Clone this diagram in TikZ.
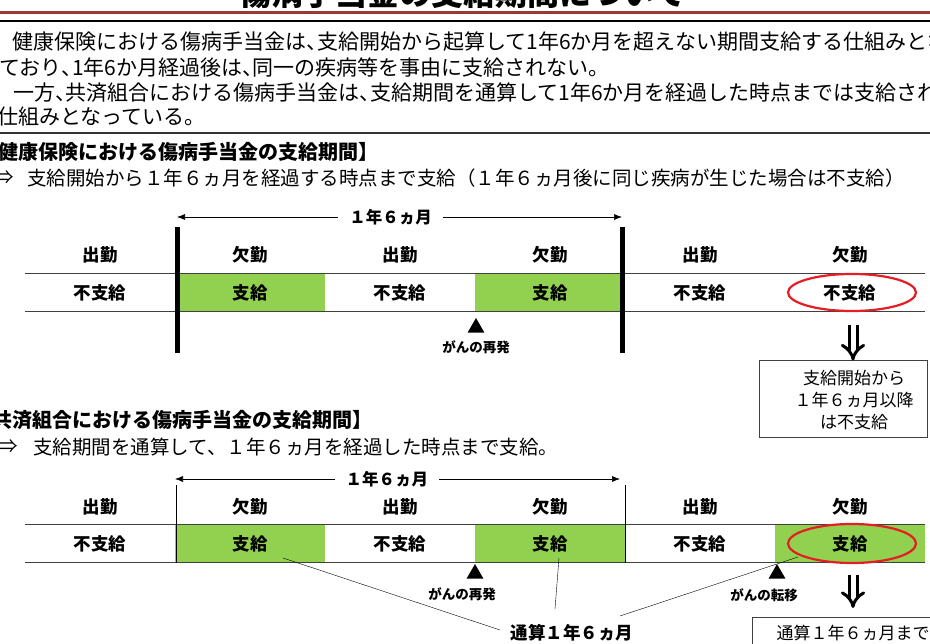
\documentclass[tikz,border=0pt]{standalone}
\usepackage{fontspec}
\setmainfont{Noto Sans CJK JP}
\usepackage{tikz}
\usetikzlibrary{positioning}
\usetikzlibrary{shapes,arrows,arrows.meta}
\definecolor{paygreen}{RGB}{146,208,80}
\definecolor{ringred}{RGB}{228,30,36}
\definecolor{barred}{RGB}{158,56,52}
\newcommand{\tcm}{\makebox[0.5em][l]{、}}
\tikzset{
hdr/.style = {font=\bfseries\fontsize{17.5}{20}\selectfont},
cell/.style = {rectangle, minimum width=150pt, minimum height=38pt, inner sep=0pt, font=\bfseries\fontsize{17.5}{20}\selectfont},
paid/.style = {cell, fill=paygreen},
para/.style = {anchor=west, inner sep=0pt, font=\fontsize{21}{24}\selectfont},
headline/.style = {anchor=west, inner sep=0pt, font=\bfseries\fontsize{20}{24}\selectfont},
leadline/.style = {anchor=west, inner sep=0pt, font=\fontsize{19.5}{24}\selectfont},
spanlabel/.style = {fill=white, inner xsep=11pt, inner ysep=0pt, font=\bfseries\fontsize{16.5}{20}\selectfont},
trimark/.style = {regular polygon, regular polygon sides=3, fill=black, minimum size=19.6pt, inner sep=0pt},
note/.style = {font=\bfseries\fontsize{13.5}{16}\selectfont},
infobox/.style = {draw=black!75, line width=1pt, fill=white},
boxtext/.style = {align=center, font=\fontsize{17}{22}\selectfont},
rowline/.style = {draw=black!75, line width=1.4pt},
fence/.style = {line width=5pt},
redring/.style = {draw=ringred, line width=2.2pt},
downarrow/.style = {double, double distance=5pt, line width=3pt, -{Implies[scale=1.2]}},
tmp/.style = {coordinate}
}

\begin{document}
\begin{tikzpicture}[x=1pt, y=-1pt, node distance=150pt, >={Latex[length=8pt,width=6pt]}]
    \useasboundingbox (0,0) rectangle (930,644);
    \clip (0,0) rectangle (930,644);

    % Title and the rules under it
    \node [anchor=base, font=\bfseries\fontsize{32}{36}\selectfont] (title) at (463,5.5) {傷病手当金の支給期間について};
    \draw [barred, line width=3pt] (0,13) -- (930,13);
    \draw [line width=1.2pt] (0,21) -- (930,21);

    % Opening text
    \node [para] (p1) at (12.5,41.7) {健康保険における傷病手当金は\tcm 支給開始から起算して1年6か月を超えない期間支給する仕組みとな};
    \node [para] (p2) at (-1,67.7) {ており\tcm 1年6か月経過後は\tcm 同一の疾病等を事由に支給されない。};
    \node [para] (p3) at (13,92.7) {一方\tcm 共済組合における傷病手当金は\tcm 支給期間を通算して1年6か月を経過した時点までは支給され};
    \node [para] (p4) at (-3,116.7) {仕組みとなっている。};
    \draw [line width=1.2pt, black!80] (0,133) -- (930,133);

    % First table: kenko hoken
    \node [headline] (s1) at (-22,152) {【健康保険における傷病手当金の支給期間】};
    \node [leadline] (s1a) at (-6,178) {⇒};
    \node [leadline] (s1b) at (27,178) {支給開始から１年６ヵ月を経過する時点まで支給（１年６ヵ月後に同じ疾病が生じた場合は不支給）};

    \node [hdr] (h1) at (100,255) {出勤};
    \node [hdr, right of=h1] (h2) {欠勤};
    \node [hdr, right of=h2] (h3) {出勤};
    \node [hdr, right of=h3] (h4) {欠勤};
    \node [hdr, right of=h4] (h5) {出勤};
    \node [hdr, right of=h5] (h6) {欠勤};

    \node [cell] (a1) at (100,292.5) {不支給};
    \node [paid, right of=a1] (a2) {支給};
    \node [cell, right of=a2] (a3) {不支給};
    \node [paid, right of=a3] (a4) {支給};
    \node [cell, right of=a4] (a5) {不支給};
    \node [cell, right of=a5] (a6) {不支給};
    \draw [rowline] (a1.north west) -- (a6.north east);
    \draw [rowline] (a1.south west) -- (a6.south east);

    \draw [fence] (177,227) -- (177,353);
    \draw [fence] (622,227) -- (622,353);
    \coordinate (l1) at (177,217);
    \coordinate (r1) at (622,217);
    \draw [<->, semithick] (l1) -- node [spanlabel, pos=0.48] {１年６ヵ月} (r1);

    \node [trimark] (t1) at (476,327.8) {};
    \node [note] (n1) at (476,347) {がんの再発};
    \draw [redring] ([xshift=2pt]a6.center) ellipse [x radius=64pt, y radius=18.5pt];

    \coordinate (d1) at (853,325);
    \node [infobox, minimum width=168pt, minimum height=77pt] (box1) at (843,399.5) {};
    \node [boxtext] (bt1) at (854,400) {支給開始から\\１年６ヵ月以降\\は不支給};
    \draw [downarrow] (d1) -- (box1.north -| d1);

    % Second table: kyosai kumiai
    \node [headline] (s2) at (-28,420) {【共済組合における傷病手当金の支給期間】};
    \node [leadline] (s2a) at (-2,447) {⇒};
    \node [leadline] (s2b) at (33,447) {支給期間を通算して、１年６ヵ月を経過した時点まで支給。};

    \node [hdr] (g1) at (100,507) {出勤};
    \node [hdr, right of=g1] (g2) {欠勤};
    \node [hdr, right of=g2] (g3) {出勤};
    \node [hdr, right of=g3] (g4) {欠勤};
    \node [hdr, right of=g4] (g5) {出勤};
    \node [hdr, right of=g5] (g6) {欠勤};

    \node [cell] (c1) at (100,543.5) {不支給};
    \node [paid, right of=c1] (c2) {支給};
    \node [cell, right of=c2] (c3) {不支給};
    \node [paid, right of=c3] (c4) {支給};
    \node [cell, right of=c4] (c5) {不支給};
    \node [paid, right of=c5] (c6) {支給};
    \draw [rowline] (c1.north west) -- (c6.north east);
    \draw [rowline] (c1.south west) -- (c6.south east);

    \draw [thick] (176,485) -- (176,563);
    \draw [thick] (625,485) -- (625,563);
    \coordinate (l2) at (175,479);
    \coordinate (r2) at (620,479);
    \draw [<->, semithick] (l2) -- node [spanlabel, pos=0.476] {１年６ヵ月} (r2);

    \node [trimark] (t2) at (475,573.8) {};
    \node [trimark] (t3) at (777,573.8) {};
    \node [note] (n2) at (462,594) {がんの再発};
    \node [note] (n3) at (764,595) {がんの転移};
    \draw [redring] ([xshift=2pt]c6.center) ellipse [x radius=64pt, y radius=19.5pt];

    \coordinate (d2) at (853,575);
    \node [infobox, anchor=north west, minimum width=208pt, minimum height=83pt] (box2) at (752,617) {};
    \node [boxtext, anchor=west] (bt2) at (773,633) {通算１年６ヵ月まで};
    \draw [downarrow, shorten >=9pt] (d2) -- (box2.north -| d2);

    % Lines that gather the paid periods
    \node [font=\bfseries\fontsize{17.5}{20}\selectfont] (tot) at (572,633) {通算１年６ヵ月};
    \coordinate (k1) at (283,558);
    \coordinate (k2) at (559,558);
    \coordinate (k3) at (798,557);
    \coordinate (m1) at (500,630);
    \coordinate (m2) at (555,609);
    \coordinate (m3) at (620,616);
    \draw [thin] (k1) -- (m1);
    \draw [thin] (k2) -- (m2);
    \draw [thin] (k3) -- (m3);
\end{tikzpicture}
\end{document}
